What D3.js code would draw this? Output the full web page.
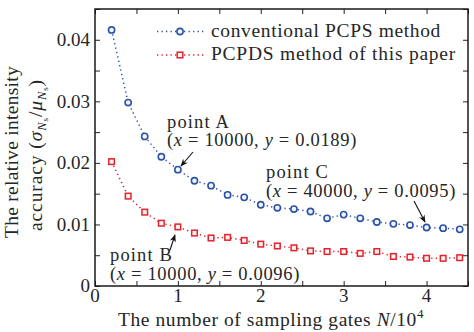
<!DOCTYPE html>
<html><head><meta charset="utf-8">
<script src="https://cdn.jsdelivr.net/npm/d3@7"></script>
<style>
html,body{margin:0;padding:0;background:#fff;}
svg text{font-family:"Liberation Serif","Times New Roman",serif;fill:#262626;}
</style></head>
<body>
<svg id="chart" width="474" height="332"></svg>
<script>
// ---- data ----
const gates = [0.2,0.4,0.6,0.8,1.0,1.2,1.4,1.6,1.8,2.0,2.2,2.4,2.6,2.8,3.0,3.2,3.4,3.6,3.8,4.0,4.2,4.4];
const conventionalPCPS = [0.0416,0.0298,0.0243,0.0210,0.0189,0.0171,0.0163,0.0148,0.0144,0.0132,0.0127,0.0125,0.0121,0.0110,0.0116,0.0110,0.0104,0.0101,0.0099,0.0095,0.0094,0.0092];
const pcpdsThisPaper = [0.0202,0.0146,0.0120,0.0102,0.0096,0.0086,0.0078,0.0079,0.0074,0.0068,0.0065,0.0062,0.0057,0.0056,0.0056,0.0053,0.0056,0.0048,0.0047,0.0045,0.0045,0.0046];
const seriesNames = ["conventional PCPS method","PCPDS method of this paper"];
const xTickValues = [0,1,2,3,4];
const yTickValues = [0,0.01,0.02,0.03,0.04];
const yTickLabels = ["0","0.01","0.02","0.03","0.04"];
const annotations = [
  {label:"point A", xv:"10000", yv:"0.0189", x:1.0, y:0.0189},
  {label:"point B", xv:"10000", yv:"0.0096", x:1.0, y:0.0096},
  {label:"point C", xv:"40000", yv:"0.0095", x:4.0, y:0.0095}
];

const blue = "#2a52a8", red = "#e3232c";
const FS = 19.5, AFS = 18.5;
const svg = d3.select("#chart");
const L = 95, R = 468, T = 9, B = 286;
const x = d3.scaleLinear().domain([0,4.5]).range([L,R]);
const y = d3.scaleLinear().domain([0,0.045]).range([B,T]);

// stretch a text to a target width via letter-spacing
function fit(sel, target){
  const n = sel.node();
  const w = n.getComputedTextLength();
  const chars = n.textContent.length;
  if (chars > 1) sel.attr("letter-spacing", ((target - w) / chars).toFixed(3));
  return sel;
}

// minor + major ticks (inward), all four sides
const tickLen = 5;
const xTicksAll = d3.range(0,4.5001,0.5);
const yTicksAll = d3.range(0,0.04501,0.005);
const axes = svg.append("g");
axes.append("g").attr("transform",`translate(0,${B})`)
  .call(d3.axisBottom(x).tickValues(xTicksAll).tickSize(-tickLen).tickFormat(""));
axes.append("g").attr("transform",`translate(0,${T})`)
  .call(d3.axisTop(x).tickValues(xTicksAll).tickSize(-tickLen).tickFormat(""));
axes.append("g").attr("transform",`translate(${L},0)`)
  .call(d3.axisLeft(y).tickValues(yTicksAll).tickSize(-tickLen).tickFormat(""));
axes.append("g").attr("transform",`translate(${R},0)`)
  .call(d3.axisRight(y).tickValues(yTicksAll).tickSize(-tickLen).tickFormat(""));
axes.selectAll(".domain").remove();
axes.selectAll(".tick line").attr("stroke","#222").attr("stroke-width",1);
svg.append("rect").attr("x",L).attr("y",T).attr("width",R-L).attr("height",B-T)
  .attr("fill","none").attr("stroke","#1a1a1a").attr("stroke-width",1.5);

// tick labels
svg.append("g").selectAll("text").data(xTickValues).join("text")
  .attr("x",d=>x(d)).attr("y",B+15.5).attr("text-anchor","middle")
  .attr("font-size",19).text(d=>d);
svg.append("g").selectAll("text").data(yTickValues).join("text")
  .attr("x",L-5).attr("y",d=>y(d)+6.3).attr("text-anchor","end")
  .attr("font-size",19).text((d,i)=>yTickLabels[i]);

// axis titles
const xt = svg.append("text").attr("x",271).attr("y",326).attr("text-anchor","middle").attr("font-size",FS);
xt.append("tspan").text("The number of sampling gates ");
xt.append("tspan").attr("font-style","italic").text("N");
xt.append("tspan").text("/10");
xt.append("tspan").attr("font-size",13).attr("dy",-8).text("4");
fit(xt, 306);

const yt1 = svg.append("text").attr("transform","translate(18,152) rotate(-90)").attr("text-anchor","middle").attr("font-size",FS)
  .text("The relative intensity");
fit(yt1, 172);
const yt2 = svg.append("text").attr("transform","translate(42,155) rotate(-90)").attr("text-anchor","middle").attr("font-size",FS);
yt2.append("tspan").text("accuracy (");
yt2.append("tspan").attr("font-style","italic").text("σ");
yt2.append("tspan").attr("font-style","italic").attr("font-size",12.5).attr("dy",3.5).text("N");
yt2.append("tspan").attr("font-size",9).attr("dy",2).text("s");
yt2.append("tspan").attr("dy",-5.5).text("/");
yt2.append("tspan").attr("font-style","italic").text("μ");
yt2.append("tspan").attr("font-style","italic").attr("font-size",12.5).attr("dy",3.5).text("N");
yt2.append("tspan").attr("font-size",9).attr("dy",2).text("s");
yt2.append("tspan").attr("dy",-5.5).text(")");
fit(yt2, 152);

// series
const series = [
  {name:seriesNames[0], vals:conventionalPCPS, color:blue, shape:"circle"},
  {name:seriesNames[1], vals:pcpdsThisPaper, color:red, shape:"square"}
];
const line = d3.line().x(d=>x(d[0])).y(d=>y(d[1]));
function marker(g, shape, color){
  if(shape==="circle"){
    g.append("circle").attr("r",3.1).attr("fill","#f4f6fb").attr("stroke",color).attr("stroke-width",1.6);
  } else {
    g.append("rect").attr("x",-2.8).attr("y",-2.8).attr("width",5.6).attr("height",5.6)
      .attr("fill","#fbf2f2").attr("stroke",color).attr("stroke-width",1.5);
  }
}
series.forEach(s=>{
  const pts = gates.map((g,i)=>[g,s.vals[i]]);
  svg.append("path").attr("d",line(pts)).attr("fill","none").attr("stroke",s.color)
    .attr("stroke-width",1.5).attr("stroke-dasharray","1.3,3.2");
  pts.forEach(p=>{
    const g = svg.append("g").attr("transform",`translate(${x(p[0])},${y(p[1])})`);
    marker(g,s.shape,s.color);
  });
});

// legend
const legY = [31.5,55];
const legW = [230,245];
series.forEach((s,i)=>{
  const g = svg.append("g").attr("transform",`translate(0,${legY[i]})`);
  g.append("line").attr("x1",157).attr("x2",204).attr("y1",0).attr("y2",0)
    .attr("stroke",s.color).attr("stroke-width",1.5).attr("stroke-dasharray","1.3,3.2");
  const m = g.append("g").attr("transform","translate(180,0)");
  marker(m,s.shape,s.color);
  const t = g.append("text").attr("x",211).attr("y",5).attr("font-size",FS).text(s.name);
  fit(t, legW[i]);
});

// annotations
const annPos = [
  {tx:167, ty:127.5, dy:18.5, ax1:193, ay1:152, ax2:181, ay2:166},
  {tx:110, ty:261, dy:18.5, ax1:170, ay1:250, ax2:175, ay2:235},
  {tx:266, ty:178, dy:18.5, ax1:414, ay1:201, ax2:425, ay2:222}
];
const defs = svg.append("defs");
defs.append("marker").attr("id","ah").attr("viewBox","0 0 10 10").attr("refX",9).attr("refY",5)
  .attr("markerWidth",7).attr("markerHeight",7).attr("orient","auto")
  .append("path").attr("d","M0,1 L10,5 L0,9 L3,5 Z").attr("fill","#111");
annotations.forEach((a,i)=>{
  const p = annPos[i];
  const t1 = svg.append("text").attr("x",p.tx).attr("y",p.ty).attr("font-size",AFS).text(a.label);
  fit(t1, 63);
  const t = svg.append("text").attr("x",p.tx).attr("y",p.ty+p.dy).attr("font-size",AFS);
  t.append("tspan").text("(");
  t.append("tspan").attr("font-style","italic").text("x");
  t.append("tspan").text(" = "+a.xv+", ");
  t.append("tspan").attr("font-style","italic").text("y");
  t.append("tspan").text(" = "+a.yv+")");
  fit(t, 190);
  svg.append("line").attr("x1",p.ax1).attr("y1",p.ay1).attr("x2",p.ax2).attr("y2",p.ay2)
    .attr("stroke","#111").attr("stroke-width",1.1).attr("marker-end","url(#ah)");
});
</script>
</body></html>
